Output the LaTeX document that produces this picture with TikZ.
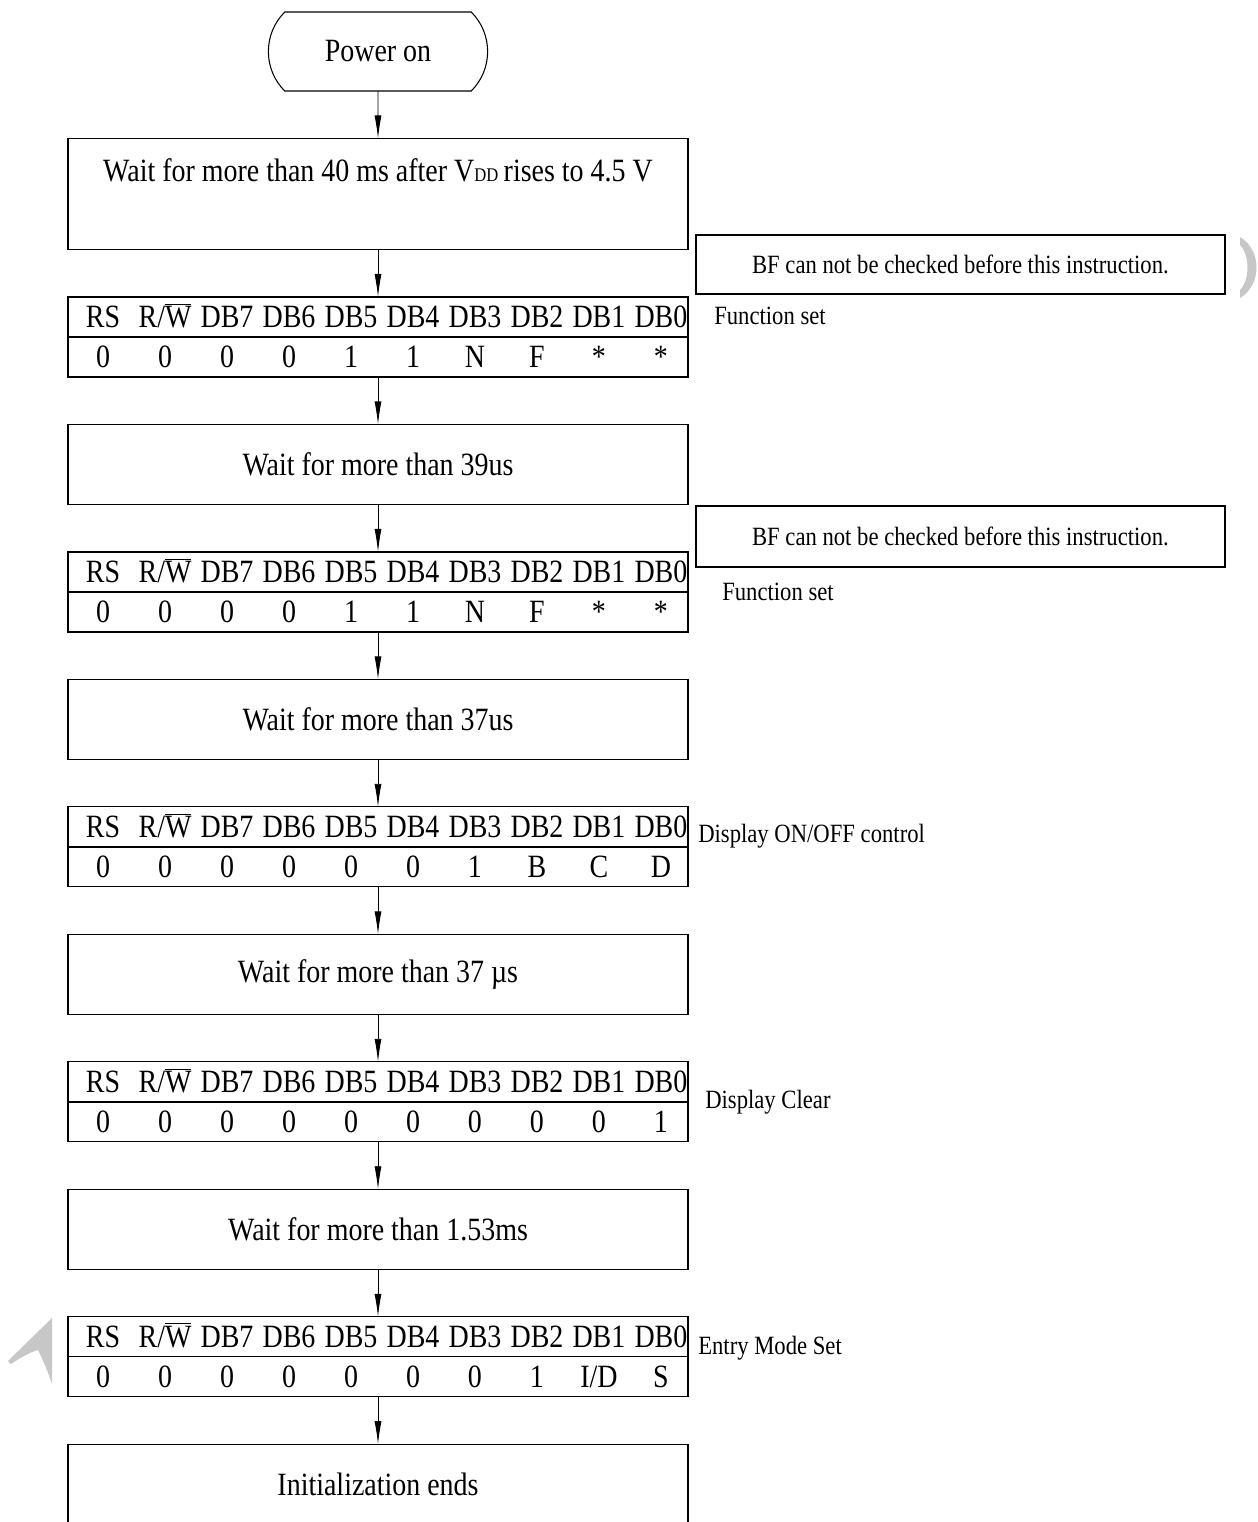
\documentclass[tikz,border=0pt]{standalone}
\usepackage{fontspec}
\setmainfont{Liberation Serif}[FakeStretch=0.86]
\usetikzlibrary{arrows.meta, positioning, shapes.misc}

\newcommand{\rwbar}{$\overline{\hbox{W}}$}
\newcommand{\regnames}{RS, R/\rwbar, DB7, DB6, DB5, DB4, DB3, DB2, DB1, DB0}

\begin{document}
\begin{tikzpicture}[x=0.02cm, y=-0.02cm, ->, >={Latex[length=0.46cm, width=0.14cm]}, node distance=0.95cm,
	start/.style={rounded rectangle, rounded rectangle arc length=90, draw, line width=0.6pt, outer sep=0pt, minimum width=4.62cm, minimum height=1.58cm, font=\fontsize{18.5}{22}\selectfont},
	box/.style={rectangle, draw, line width=0.7pt, outer sep=0pt, minimum width=12.4cm, minimum height=1.6cm, inner sep=0pt, font=\fontsize{18.5}{22}\selectfont},
	note/.style={rectangle, draw, line width=0.9pt, outer sep=0pt, minimum width=10.58cm, minimum height=1.18cm, font=\fontsize{15}{18}\selectfont},
	lbl/.style={inner sep=0pt, font=\fontsize{15}{18}\selectfont},
	cell/.style={inner sep=0pt, text height=12.3pt, text depth=0pt, font=\fontsize{18.5}{22}\selectfont}]

		\useasboundingbox (0,0) rectangle (1258,1522);

		\node[start] (pwr) at (378,51.5) {Power on};
		\node[box, minimum height=2.22cm] (b1) [below=of pwr] {};
		\node[lbl, font=\fontsize{18.5}{22}\selectfont] (b1text) at ([yshift=-0.64cm]b1.north)
			{Wait for more than 40 ms after V{\fontsize{11}{11}\selectfont DD}\,rises to 4.5 V};
		\node[box] (t1) [below=of b1] {};
		\node[box] (b2) [below=of t1] {Wait for more than 39us};
		\node[box] (t2) [below=of b2] {};
		\node[box] (b3) [below=of t2] {Wait for more than 37us};
		\node[box] (t3) [below=of b3] {};
		\node[box] (b4) [below=of t3] {Wait for more than 37 µs};
		\node[box] (t4) [below=of b4] {};
		\node[box] (b5) [below=of t4] {Wait for more than 1.53ms};
		\node[box] (t5) [below=of b5] {};
		\node[box] (b6) [below=of t5] {Initialization ends};

		\node[note] (n1) [above right=0.06cm and 0.16cm of t1.north east] {BF can not be checked before this instruction.};
		\node[note, minimum height=1.22cm] (n2) [above right=-0.3cm and 0.16cm of t2.north east] {BF can not be checked before this instruction.};

		\node[lbl] (fs1) [right=0.52cm of t1.east, yshift=0.42cm] {Function set};
		\node[lbl] (fs2) [right=0.68cm of t2.east] {Function set};
		\node[lbl] (onoff) [right=0.2cm of t3.east, yshift=0.22cm] {Display ON/OFF control};
		\node[lbl] (clr) [right=0.34cm of t4.east] {Display Clear};
		\node[lbl] (ems) [right=0.2cm of t5.east, yshift=0.18cm] {Entry Mode Set};

		% register rows
		\foreach \t/\vals in {t1/{0,0,0,0,1,1,N,F,*,*}, t2/{0,0,0,0,1,1,N,F,*,*}, t3/{0,0,0,0,0,0,1,B,C,D},
				t4/{0,0,0,0,0,0,0,0,0,1}, t5/{0,0,0,0,0,0,0,1,I/D,S}} {
			\draw[-, line width=0.8pt] (\t.west) -- (\t.east);
			\foreach \h [count=\i] in \regnames
				\node[cell] at ([xshift=0.7cm+1.24cm*(\i-1), yshift=-0.4cm]\t.north west) {\h};
			\foreach \v [count=\i] in \vals
				\node[cell] at ([xshift=0.7cm+1.24cm*(\i-1), yshift=0.4cm]\t.south west) {\v};
		}

		\foreach \a/\b in {pwr/b1, b1/t1, t1/b2, b2/t2, t2/b3, b3/t3, t3/b4, b4/t4, t4/b5, b5/t5, t5/b6}
			\draw[line width=0.5pt] (\a) -- (\b);

		% grey marks at the edges
		\fill[-, black!22] (52,1318) -- (8,1361) -- (11,1364) .. controls (20,1358) and (30,1352) .. (38,1350)
			.. controls (44,1362) and (48,1372) .. (52,1384) -- cycle;
		\fill[-, black!22] (1240,237) .. controls (1262,250) and (1262,285) .. (1240,298) -- (1240,290)
			.. controls (1250,280) and (1250,255) .. (1240,245) -- cycle;

\end{tikzpicture}
\end{document}
